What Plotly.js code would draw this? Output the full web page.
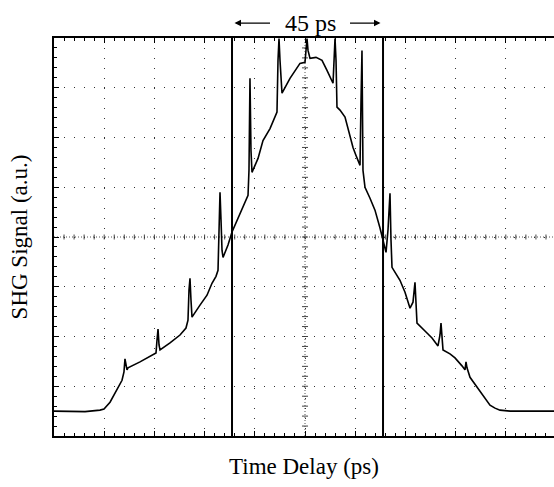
<!DOCTYPE html>
<html>
<head>
<meta charset="utf-8">
<script src="https://cdn.plot.ly/plotly-3.0.1.min.js"></script>
<style>html,body{margin:0;padding:0;background:#fff;}#chart{width:554px;height:487px;}</style>
</head>
<body>
<div id="chart"></div>
<script>
// Time delay in screen divisions (15 ps / division), signal in vertical divisions
const delayDiv = [0, 0.319, 0.618, 0.916, 0.996, 1.116, 1.255, 1.355, 1.394, 1.414, 1.454, 1.474, 1.713, 1.912, 2.032, 2.052, 2.072, 2.092, 2.112, 2.311, 2.510, 2.629, 2.669, 2.689, 2.709, 2.729, 2.749, 2.908, 3.048, 3.147, 3.227, 3.267, 3.287, 3.307, 3.327, 3.347, 3.367, 3.466, 3.546, 3.665, 3.785, 3.865, 3.884, 3.904, 3.924, 3.944, 4.064, 4.163, 4.303, 4.442, 4.462, 4.482, 4.502, 4.542, 4.701, 4.841, 4.900, 5.000, 5.040, 5.060, 5.100, 5.219, 5.339, 5.438, 5.558, 5.598, 5.618, 5.637, 5.697, 5.797, 5.896, 5.956, 6.016, 6.096, 6.116, 6.135, 6.155, 6.195, 6.295, 6.394, 6.494, 6.554, 6.614, 6.653, 6.693, 6.713, 6.733, 6.892, 6.992, 7.092, 7.151, 7.191, 7.211, 7.231, 7.390, 7.530, 7.649, 7.689, 7.709, 7.729, 7.749, 7.888, 7.988, 8.127, 8.187, 8.207, 8.227, 8.287, 8.446, 8.586, 8.685, 8.785, 8.884, 9.084, 9.283, 9.482, 9.681, 9.96];
const shgSignal = [0.50, 0.50, 0.49, 0.52, 0.54, 0.68, 0.92, 1.12, 1.29, 1.55, 1.33, 1.37, 1.49, 1.61, 1.67, 1.93, 2.15, 1.83, 1.73, 1.87, 2.03, 2.17, 2.33, 2.93, 3.17, 2.73, 2.39, 2.63, 2.83, 3.07, 3.21, 3.33, 4.14, 4.90, 4.34, 3.73, 3.59, 3.84, 4.10, 4.38, 4.64, 4.84, 5.34, 7.19, 5.74, 5.30, 5.58, 5.94, 6.18, 6.51, 7.55, 7.99, 7.55, 6.89, 7.19, 7.41, 7.49, 7.51, 7.99, 7.75, 7.59, 7.61, 7.55, 7.35, 7.09, 7.99, 7.55, 6.61, 6.55, 6.41, 6.00, 5.80, 5.64, 5.44, 6.75, 7.75, 5.34, 5.00, 4.78, 4.54, 4.18, 3.94, 3.69, 4.14, 4.88, 3.94, 3.39, 3.13, 2.89, 2.57, 2.69, 3.09, 2.73, 2.27, 2.11, 1.97, 1.81, 2.03, 2.27, 1.93, 1.73, 1.65, 1.57, 1.41, 1.33, 1.49, 1.37, 1.18, 0.96, 0.76, 0.62, 0.56, 0.52, 0.50, 0.50, 0.49, 0.50, 0.50];
const markerDelay = [3.546, 6.554];
const widthLabel = "45 ps";
const xTitle = "Time Delay (ps)";
const yTitle = "SHG Signal (a.u.)";

const serif = "Liberation Serif, Times New Roman, serif";
const yMax = 8;

const shapes = [];
// center crosshair dense dotted lines
shapes.push({type:'line', xref:'x', yref:'y', x0:0, x1:10, y0:4, y1:4, line:{color:'#555', width:1, dash:'1px,2px'}, layer:'below'});
shapes.push({type:'line', xref:'x', yref:'y', x0:5, x1:5, y0:0, y1:8, line:{color:'#555', width:1, dash:'1px,2px'}, layer:'below'});
for (let i = 1; i < 50; i++) {
  const xv = i * 0.2;
  shapes.push({type:'line', xref:'x', yref:'y', x0:xv, x1:xv, y0:3.95, y1:4.05, line:{color:'#444', width:1}, layer:'below'});
}
for (let i = 1; i < 40; i++) {
  const yv = i * 0.2;
  shapes.push({type:'line', xref:'x', yref:'y', x0:4.94, x1:5.06, y0:yv, y1:yv, line:{color:'#444', width:1}, layer:'below'});
}
// marker lines
markerDelay.forEach(m => {
  shapes.push({type:'line', xref:'x', yref:'y', x0:m, x1:m, y0:0, y1:8.45, line:{color:'#000', width:2}});
});

const arrowY = 8.30 / yMax;
const annotations = [
  {x: markerDelay[0] + 0.05, y: arrowY, xref:'x', yref:'paper', axref:'pixel', ayref:'pixel', ax: 37, ay: 0,
   text:'', showarrow:true, arrowhead:2, arrowsize:1, arrowwidth:1.3, arrowcolor:'#000'},
  {x: markerDelay[1] - 0.05, y: arrowY, xref:'x', yref:'paper', axref:'pixel', ayref:'pixel', ax: -32, ay: 0,
   text:'', showarrow:true, arrowhead:2, arrowsize:1, arrowwidth:1.3, arrowcolor:'#000'},
  {x: 5.1, y: 8.31 / yMax, xref:'x', yref:'paper', xanchor:'center', yanchor:'middle', text: widthLabel, showarrow:false,
   font:{family: serif, size: 24, color:'#000'}}
];

const trace = {
  x: delayDiv, y: shgSignal, type:'scatter', mode:'lines',
  line:{color:'#000', width:1.6}, hoverinfo:'skip'
};

const axisCommon = {
  showticklabels:false, ticks:'inside', ticklen:5, tickcolor:'#000', tickwidth:1,
  minor:{ticks:'inside', ticklen:3, tickcolor:'#000', dtick:0.2, showgrid:false},
  showgrid:true, gridcolor:'#333', gridwidth:1, griddash:'1px,9px',
  zeroline:false, showline:true, linecolor:'#000', linewidth:2, fixedrange:true
};

const layout = {
  width:554, height:487,
  margin:{l:54, r:0, t:38, b:51, pad:0},
  paper_bgcolor:'#fff', plot_bgcolor:'#fff',
  showlegend:false,
  xaxis: Object.assign({}, axisCommon, {range:[0, 9.96], dtick:1, tick0:0, mirror:'allticks',
    title:{text:xTitle, font:{family:serif, size:23, color:'#000'}, standoff:21}, automargin:false}),
  yaxis: Object.assign({}, axisCommon, {range:[0, yMax], dtick:1, tick0:0, mirror:false,
    title:{text:yTitle, font:{family:serif, size:23, color:'#000'}, standoff:18}, automargin:false}),
  shapes: shapes,
  annotations: annotations
};

Plotly.newPlot('chart', [trace], layout, {staticPlot:true, displayModeBar:false});
</script>
</body>
</html>
